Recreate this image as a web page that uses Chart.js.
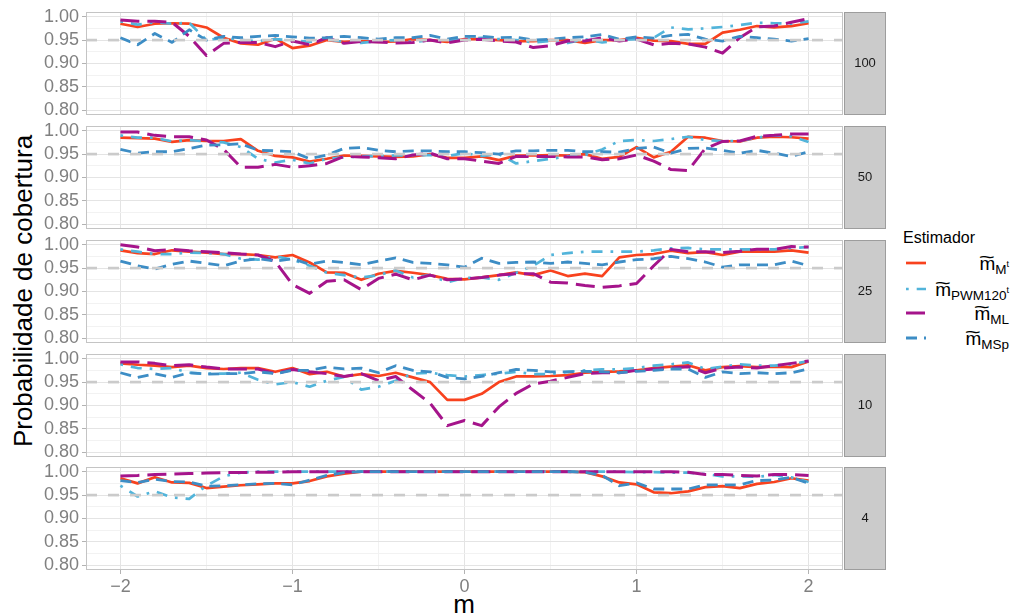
<!DOCTYPE html>
<html lang="pt">
<head>
  <meta charset="UTF-8" />
  <title>Probabilidade de cobertura</title>
  <script src="https://cdn.jsdelivr.net/npm/chart.js"></script>
  <style>
    html, body {
      margin: 0;
      padding: 0;
      background: #fff;
    }
    body {
      position: relative;
      width: 1011px;
      height: 616px;
      overflow: hidden;
      font-family: "Liberation Sans", Arial, sans-serif;
    }
    canvas.panel {
      position: absolute;
      left: 0;
    }
    #ytitle {
      position: absolute;
      left: 23px;
      top: 291px;
      font-size: 26px;
      line-height: 1;
      white-space: nowrap;
      color: #000;
      transform: translate(-50%, -50%) rotate(-90deg);
    }
    #xtitle {
      position: absolute;
      left: 464px;
      top: 591px;
      font-size: 26px;
      line-height: 1;
      color: #000;
      transform: translateX(-50%);
    }
    #legend-title {
      position: absolute;
      left: 903px;
      top: 230px;
      font-size: 16px;
      line-height: 1;
    }
    .key-row {
      position: absolute;
      left: 906px;
      width: 103px;
      height: 24px;
      display: flex;
      align-items: center;
    }
    .key-row svg {
      flex: none;
    }
    .key-row .lab {
      flex: 1;
      text-align: right;
      font-size: 19px;
      line-height: 1;
      white-space: nowrap;
    }
    .key-row .tm {
      position: relative;
      display: inline-block;
    }
    .key-row .tl {
      position: absolute;
      left: 0;
      width: 100%;
      top: -0.36em;
      text-align: center;
      font-size: 1em;
      transform: scaleX(1.45);
    }
    .key-row sub {
      font-size: 13.5px;
      vertical-align: -4px;
      line-height: 0;
    }
    .key-row sup {
      font-size: 9px;
      vertical-align: 7px;
      line-height: 0;
    }
  </style>
</head>
<body>
  <div id="ytitle">Probabilidade de cobertura</div>
  <div id="xtitle">m</div>
  <div id="legend-title">Estimador</div>
  <div id="legend"></div>

  <script>
    // grid of m values shared by every panel
    const xValues = [-2.0, -1.9, -1.8, -1.7, -1.6, -1.5, -1.4, -1.3, -1.2, -1.1,
                     -1.0, -0.9, -0.8, -0.7, -0.6, -0.5, -0.4, -0.3, -0.2, -0.1,
                      0.0,  0.1,  0.2,  0.3,  0.4,  0.5,  0.6,  0.7,  0.8,  0.9,
                      1.0,  1.1,  1.2,  1.3,  1.4,  1.5,  1.6,  1.7,  1.8,  1.9, 2.0];
    const xMajor = [-2, -1, 0, 1, 2];
    const xMinor = [-1.5, -0.5, 0.5, 1.5];
    const xTickLabels = ['−2', '−1', '0', '1', '2'];
    const yMajor = [0.80, 0.85, 0.90, 0.95, 1.00];
    const yMinor = [0.825, 0.875, 0.925, 0.975];
    const yTickLabels = ['0.80', '0.85', '0.90', '0.95', '1.00'];
    const nominalLevel = 0.95;
    const panelLabels = ['100', '50', '25', '10', '4'];

    // n = 100
    const mt100  = [0.985,0.978,0.985,0.986,0.985,0.977,0.955,0.943,0.940,0.953,0.933,0.938,0.950,0.946,0.948,0.946,0.947,0.952,0.950,0.946,
                    0.952,0.952,0.950,0.948,0.948,0.950,0.950,0.944,0.950,0.950,0.955,0.949,0.948,0.942,0.942,0.966,0.972,0.980,0.977,0.980,0.986];
    const pwm100 = [0.990,0.983,0.988,0.985,0.987,0.950,0.955,0.950,0.948,0.952,0.950,0.946,0.952,0.946,0.944,0.948,0.950,0.946,0.950,0.948,
                    0.952,0.955,0.952,0.950,0.945,0.948,0.944,0.952,0.945,0.950,0.952,0.955,0.977,0.973,0.975,0.978,0.982,0.987,0.986,0.985,0.990];
    const ml100  = [0.993,0.990,0.990,0.988,0.958,0.917,0.943,0.945,0.945,0.936,0.948,0.940,0.955,0.943,0.947,0.946,0.944,0.945,0.950,0.944,
                    0.950,0.952,0.948,0.946,0.934,0.938,0.948,0.948,0.955,0.948,0.952,0.940,0.943,0.942,0.935,0.922,0.955,0.978,0.980,0.988,0.996];
    const msp100 = [0.955,0.940,0.964,0.945,0.972,0.950,0.958,0.955,0.958,0.960,0.957,0.954,0.955,0.958,0.955,0.952,0.955,0.955,0.960,0.952,
                    0.958,0.958,0.955,0.956,0.950,0.952,0.955,0.957,0.962,0.952,0.957,0.954,0.960,0.962,0.952,0.948,0.958,0.955,0.952,0.948,0.953];

    // n = 50
    const mt50  = [0.985,0.984,0.983,0.976,0.980,0.978,0.978,0.982,0.957,0.946,0.943,0.934,0.940,0.947,0.946,0.945,0.944,0.945,0.950,0.942,
                   0.942,0.945,0.937,0.947,0.947,0.948,0.947,0.950,0.940,0.944,0.965,0.943,0.955,0.987,0.985,0.978,0.977,0.985,0.987,0.986,0.983];
    const pwm50 = [0.990,0.985,0.985,0.977,0.980,0.977,0.975,0.965,0.940,0.932,0.938,0.930,0.940,0.943,0.945,0.946,0.947,0.948,0.948,0.946,
                   0.952,0.946,0.950,0.930,0.935,0.940,0.945,0.948,0.960,0.978,0.980,0.978,0.982,0.987,0.980,0.978,0.978,0.985,0.990,0.988,0.976];
    const ml50  = [0.997,0.997,0.990,0.987,0.987,0.980,0.960,0.922,0.922,0.928,0.922,0.925,0.930,0.945,0.944,0.942,0.940,0.948,0.952,0.940,
                   0.940,0.935,0.930,0.945,0.945,0.945,0.944,0.944,0.938,0.940,0.948,0.935,0.917,0.915,0.962,0.977,0.978,0.988,0.990,0.993,0.993];
    const msp50 = [0.960,0.952,0.955,0.955,0.962,0.969,0.970,0.972,0.958,0.957,0.955,0.940,0.948,0.962,0.964,0.958,0.955,0.957,0.957,0.955,
                   0.955,0.953,0.950,0.957,0.957,0.958,0.958,0.955,0.955,0.954,0.962,0.965,0.952,0.962,0.963,0.958,0.952,0.958,0.952,0.945,0.955];

    // n = 25
    const mt25  = [0.988,0.982,0.980,0.988,0.985,0.983,0.980,0.980,0.978,0.973,0.978,0.962,0.941,0.940,0.925,0.938,0.944,0.940,0.935,0.927,
                   0.926,0.930,0.935,0.941,0.935,0.945,0.933,0.938,0.933,0.973,0.978,0.980,0.987,0.982,0.984,0.978,0.985,0.985,0.985,0.988,0.983];
    const pwm25 = [0.990,0.985,0.980,0.980,0.983,0.982,0.980,0.970,0.968,0.975,0.968,0.955,0.940,0.935,0.930,0.935,0.945,0.930,0.935,0.920,
                   0.929,0.930,0.925,0.940,0.955,0.978,0.982,0.985,0.985,0.985,0.985,0.988,0.992,0.993,0.990,0.990,0.990,0.990,0.990,0.993,0.995];
    const ml25  = [1.000,0.995,0.987,0.990,0.987,0.985,0.983,0.980,0.978,0.964,0.915,0.896,0.922,0.925,0.904,0.928,0.937,0.925,0.935,0.925,
                   0.927,0.930,0.935,0.938,0.938,0.920,0.918,0.913,0.909,0.912,0.917,0.955,0.990,0.985,0.985,0.983,0.986,0.990,0.990,0.996,0.995];
    const msp25 = [0.965,0.955,0.948,0.958,0.965,0.960,0.955,0.965,0.970,0.965,0.970,0.958,0.965,0.962,0.957,0.965,0.972,0.962,0.960,0.957,
                   0.952,0.971,0.960,0.962,0.963,0.960,0.963,0.960,0.957,0.963,0.968,0.970,0.975,0.970,0.963,0.952,0.957,0.957,0.957,0.965,0.955];

    // n = 10
    const mt10  = [0.990,0.987,0.985,0.982,0.985,0.980,0.978,0.980,0.980,0.972,0.980,0.967,0.972,0.962,0.967,0.963,0.970,0.960,0.950,0.912,
                   0.912,0.925,0.950,0.962,0.962,0.963,0.965,0.970,0.972,0.973,0.975,0.980,0.983,0.986,0.975,0.982,0.984,0.982,0.983,0.982,0.994];
    const pwm10 = [0.988,0.980,0.978,0.980,0.970,0.968,0.968,0.970,0.955,0.945,0.950,0.940,0.953,0.961,0.934,0.940,0.953,0.968,0.970,0.965,
                   0.962,0.965,0.968,0.972,0.967,0.967,0.972,0.975,0.977,0.977,0.980,0.985,0.988,0.992,0.978,0.983,0.988,0.985,0.985,0.988,0.995];
    const ml10  = [0.993,0.993,0.990,0.985,0.987,0.982,0.978,0.978,0.978,0.968,0.977,0.972,0.968,0.962,0.968,0.953,0.962,0.933,0.905,0.857,
                   0.868,0.857,0.897,0.926,0.946,0.952,0.960,0.968,0.970,0.970,0.975,0.978,0.980,0.983,0.970,0.980,0.982,0.980,0.985,0.990,0.995];
    const msp10 = [0.970,0.960,0.968,0.960,0.970,0.967,0.968,0.968,0.972,0.968,0.975,0.975,0.982,0.978,0.980,0.970,0.985,0.975,0.972,0.960,
                   0.957,0.962,0.970,0.977,0.975,0.972,0.972,0.973,0.972,0.970,0.973,0.975,0.978,0.978,0.960,0.972,0.968,0.970,0.968,0.970,0.978];

    // n = 4
    const mt4  = [0.986,0.975,0.988,0.977,0.976,0.965,0.968,0.971,0.973,0.975,0.975,0.980,0.990,0.996,1.000,1.000,1.000,1.000,1.000,1.000,
                  1.000,1.000,1.000,1.000,1.000,1.000,1.000,0.999,0.990,0.977,0.973,0.956,0.954,0.958,0.967,0.969,0.965,0.974,0.978,0.986,0.981];
    const pwm4 = [0.970,0.947,0.958,0.945,0.942,0.970,0.990,0.998,1.000,1.000,1.000,1.000,1.000,1.000,1.000,1.000,1.000,1.000,1.000,1.000,
                  1.000,1.000,1.000,1.000,1.000,1.000,1.000,1.000,1.000,1.000,0.999,0.999,0.998,0.998,0.995,0.990,0.990,0.989,0.993,0.988,0.978];
    const ml4  = [0.991,0.992,0.994,0.995,0.996,0.997,0.998,0.998,0.999,0.999,1.000,1.000,1.000,1.000,1.000,1.000,1.000,1.000,1.000,1.000,
                  1.000,1.000,1.000,1.000,1.000,1.000,1.000,1.000,1.000,1.000,1.000,1.000,1.000,0.999,0.994,0.994,0.992,0.991,0.994,0.994,0.992];
    const msp4 = [0.981,0.977,0.984,0.979,0.978,0.969,0.970,0.972,0.974,0.975,0.972,0.982,0.992,0.998,1.000,1.000,1.000,1.000,1.000,1.000,
                  1.000,1.000,1.000,1.000,1.000,1.000,1.000,0.999,0.992,0.970,0.976,0.963,0.963,0.963,0.972,0.972,0.972,0.981,0.982,0.988,0.975];

    const panelSeries = [
      [mt100, pwm100, ml100, msp100],
      [mt50, pwm50, ml50, msp50],
      [mt25, pwm25, ml25, msp25],
      [mt10, pwm10, ml10, msp10],
      [mt4, pwm4, ml4, msp4]
    ];

    // line styles, in legend order
    const estimators = [
      { sub: 'M<sup>t</sup>',      color: '#f8421e', width: 2.7, dash: [] },
      { sub: 'PWM120<sup>t</sup>', color: '#52b4da', width: 2.7, dash: [2.7, 8, 11, 8] },
      { sub: 'ML',                 color: '#a5148b', width: 3.0, dash: [19, 8] },
      { sub: 'MSp',                color: '#3d8dc5', width: 2.8, dash: [11, 7] }
    ];

    const panelTops = [12, 126, 240, 354, 467];
    const panelHeight = 103;
    const FONT = '"Liberation Sans", Arial, sans-serif';
    Chart.defaults.font.family = FONT;

    const near = (list, v) => list.findIndex(m => Math.abs(m - v) < 1e-6);

    // keep the plot area exactly where the layout padding puts it
    const noScalePadding = s => {
      s.paddingTop = 0; s.paddingBottom = 0; s.paddingLeft = 0; s.paddingRight = 0;
    };

    // panel frame + grey strip with the sample size on the right
    const panelFrame = {
      id: 'panelFrame',
      afterDraw(chart, args, opts) {
        const { ctx, chartArea: a } = chart;
        const h = a.bottom - a.top;
        ctx.save();
        ctx.strokeStyle = '#c4c4c4';
        ctx.lineWidth = 1;
        ctx.strokeRect(a.left + 0.5, a.top + 0.5, a.right - a.left - 1, h - 1);
        const sx = a.right + 1;
        ctx.fillStyle = '#cbcbcb';
        ctx.fillRect(sx, a.top, 42, h);
        ctx.strokeStyle = '#9d9d9d';
        ctx.strokeRect(sx + 0.5, a.top + 0.5, 41, h - 1);
        ctx.fillStyle = '#1a1a1a';
        ctx.font = '13px ' + FONT;
        ctx.textAlign = 'center';
        ctx.textBaseline = 'middle';
        ctx.fillText(opts.label, sx + 21, (a.top + a.bottom) / 2);
        ctx.restore();
      }
    };

    function makePanel(k) {
      const last = k === panelLabels.length - 1;
      const canvas = document.createElement('canvas');
      canvas.className = 'panel';
      canvas.width = 889;
      canvas.height = last ? 4 + panelHeight + 44 + 2 : 4 + panelHeight + 2;
      canvas.style.top = (panelTops[k] - 4) + 'px';
      document.body.appendChild(canvas);

      const datasets = estimators.map((e, j) => ({
        label: e.sub,
        data: xValues.map((x, i) => ({ x: x, y: panelSeries[k][j][i] })),
        borderColor: e.color,
        borderWidth: e.width,
        borderDash: e.dash,
        borderCapStyle: 'butt',
        borderJoinStyle: 'round',
        pointRadius: 0,
        tension: 0,
        order: estimators.length - j
      }));
      // nominal 95% reference line across the whole panel
      datasets.push({
        label: 'nominal',
        data: [{ x: -2.2, y: nominalLevel }, { x: 2.2, y: nominalLevel }],
        borderColor: '#cbcbcb',
        borderWidth: 2.7,
        borderDash: [11, 11],
        borderCapStyle: 'butt',
        pointRadius: 0,
        order: 0
      });

      return new Chart(canvas, {
        type: 'line',
        data: { datasets },
        options: {
          responsive: false,
          animation: false,
          layout: { padding: { top: 4, right: 46, bottom: 2, left: 0 } },
          plugins: {
            legend: { display: false },
            tooltip: { enabled: false },
            panelFrame: { label: panelLabels[k] }
          },
          scales: {
            x: {
              type: 'linear',
              min: -2.2,
              max: 2.2,
              afterBuildTicks: s => { s.ticks = xMajor.concat(xMinor).map(v => ({ value: v })); },
              afterFit: s => { s.height = last ? 44 : 0; noScalePadding(s); },
              border: { display: false },
              grid: {
                color: c => near(xMajor, c.tick.value) >= 0 ? '#e4e4e4' : '#f2f2f2',
                lineWidth: 1,
                drawTicks: last,
                tickLength: 4,
                tickColor: c => near(xMajor, c.tick.value) >= 0 ? '#b3b3b3' : 'rgba(0,0,0,0)'
              },
              ticks: {
                display: last,
                autoSkip: false,
                maxRotation: 0,
                padding: 2,
                color: '#808080',
                font: { size: 18 },
                callback: v => { const i = near(xMajor, v); return i >= 0 ? xTickLabels[i] : ''; }
              }
            },
            y: {
              type: 'linear',
              min: 0.79,
              max: 1.01,
              afterBuildTicks: s => { s.ticks = yMajor.concat(yMinor).map(v => ({ value: v })); },
              afterFit: s => { s.width = 86; noScalePadding(s); },
              border: { display: false },
              grid: {
                color: c => near(yMajor, c.tick.value) >= 0 ? '#e4e4e4' : '#f2f2f2',
                lineWidth: 1,
                tickLength: 4,
                tickColor: c => near(yMajor, c.tick.value) >= 0 ? '#b3b3b3' : 'rgba(0,0,0,0)'
              },
              ticks: {
                autoSkip: false,
                padding: 3,
                color: '#808080',
                font: { size: 18 },
                callback: v => { const i = near(yMajor, v); return i >= 0 ? yTickLabels[i] : ''; }
              }
            }
          }
        },
        plugins: [panelFrame]
      });
    }

    panelLabels.forEach((_, k) => makePanel(k));

    // legend keys
    const rowCentres = [263, 289, 313, 338];
    const legend = document.getElementById('legend');
    estimators.forEach((e, j) => {
      const row = document.createElement('div');
      row.className = 'key-row';
      row.style.top = (rowCentres[j] - 12) + 'px';
      const dash = e.dash.length ? e.dash.join(' ') : 'none';
      row.innerHTML =
        '<svg width="20" height="8"><line x1="0" y1="4" x2="20" y2="4" stroke="' + e.color +
        '" stroke-width="' + e.width + '" stroke-dasharray="' + dash + '"/></svg>' +
        '<span class="lab"><span class="tm">m<span class="tl">~</span></span><sub>' + e.sub + '</sub></span>';
      legend.appendChild(row);
    });
  </script>
</body>
</html>
